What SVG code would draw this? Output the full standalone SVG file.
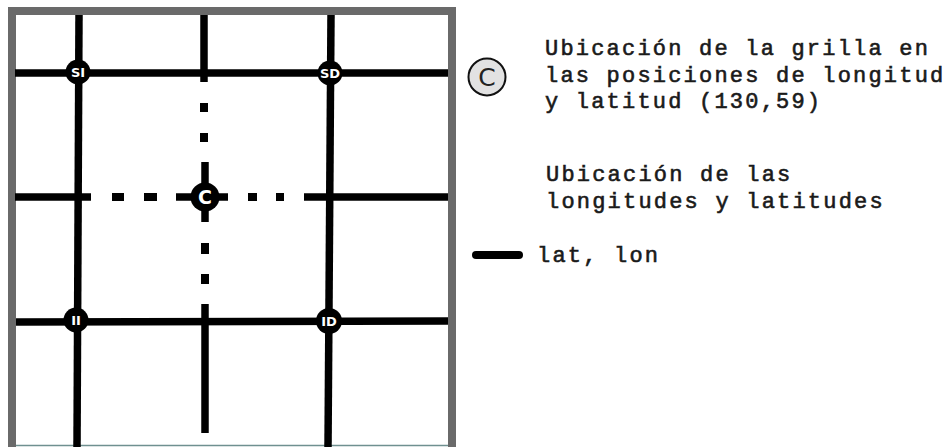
<svg xmlns="http://www.w3.org/2000/svg" width="952" height="447" viewBox="0 0 952 447">
<style>
.grid{stroke:#000;stroke-width:7.5;fill:none;stroke-linecap:butt}
.dash{fill:#000}
.node circle{fill:#000}
.node text{fill:#fff;font-family:"DejaVu Sans",sans-serif;font-weight:bold;text-anchor:middle}
.txt{font-family:"Liberation Mono",monospace;font-size:22px;letter-spacing:2.2px;fill:#1a1a1a;stroke:#1a1a1a;stroke-width:0.6px}
</style>
<rect x="0" y="0" width="952" height="447" fill="#fff"/>
<rect id="frame" x="12" y="11" width="440" height="450" fill="#fff" stroke="#6a6a6a" stroke-width="8"/>
<line x1="16" y1="445.5" x2="448" y2="445.5" stroke="#6f9090" stroke-width="1.5"/>
<g id="connectors">
  <line class="grid" x1="79" y1="15" x2="77" y2="447"/>
  <line class="grid" x1="331" y1="15" x2="328" y2="447"/>
  <line class="grid" x1="15" y1="73" x2="448" y2="73"/>
  <line class="grid" x1="16" y1="322" x2="448" y2="321"/>
  <line class="grid" x1="15" y1="197" x2="91" y2="197"/>
  <rect class="dash" x="112" y="193" width="12" height="8"/>
  <rect class="dash" x="144" y="193" width="13" height="8"/>
  <line class="grid" x1="176" y1="197" x2="228" y2="197"/>
  <rect class="dash" x="248" y="193" width="9" height="8"/>
  <rect class="dash" x="276" y="193" width="8" height="8"/>
  <line class="grid" x1="304" y1="197" x2="448" y2="197"/>
  <line class="grid" x1="204" y1="15" x2="204" y2="82"/>
  <rect class="dash" x="200" y="103" width="8" height="9"/>
  <rect class="dash" x="200" y="133" width="8" height="9"/>
  <line class="grid" x1="205" y1="162" x2="205" y2="222"/>
  <rect class="dash" x="201" y="243" width="8" height="11"/>
  <rect class="dash" x="201" y="274" width="8" height="10"/>
  <line class="grid" x1="205" y1="304" x2="205" y2="433" stroke-linecap="round"/>
</g>
<g id="node-SI" class="node"><circle cx="78" cy="72" r="12.5"/><text x="78" y="77" font-size="13">SI</text></g>
<g id="node-SD" class="node"><circle cx="330" cy="73" r="12.5"/><text x="330" y="78" font-size="13">SD</text></g>
<g id="node-II" class="node"><circle cx="76" cy="320" r="12.5"/><text x="76" y="325" font-size="13">II</text></g>
<g id="node-ID" class="node"><circle cx="329" cy="321" r="13"/><text x="329" y="326" font-size="13">ID</text></g>
<g id="node-C" class="node"><circle cx="205" cy="197" r="14.5"/><text x="205" y="204" font-size="19">C</text></g>
<g id="legend">
  <circle cx="487" cy="77" r="18.5" fill="#e2e2e2" stroke="#111" stroke-width="2"/>
  <text x="487" y="86" font-family="DejaVu Sans,sans-serif" font-size="25" text-anchor="middle" fill="#222">C</text>
  <text class="txt" x="545" y="55">Ubicación de la grilla en</text>
  <text class="txt" x="545" y="82">las posiciones de longitud</text>
  <text class="txt" x="545" y="108">y latitud (130,59)</text>
  <text class="txt" x="546" y="181">Ubicación de las</text>
  <text class="txt" x="546" y="208">longitudes y latitudes</text>
  <line x1="476" y1="255" x2="519" y2="255" stroke="#000" stroke-width="8" stroke-linecap="round"/>
  <text class="txt" x="537" y="262">lat, lon</text>
</g>
</svg>
